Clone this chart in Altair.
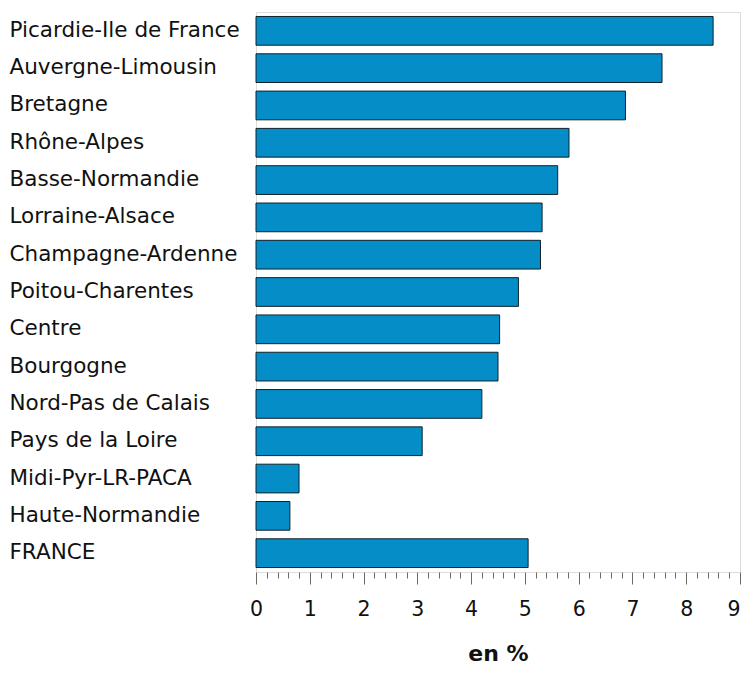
import altair as alt
import pandas as pd

regions = [
    "Picardie-Ile de France", "Auvergne-Limousin", "Bretagne", "Rhône-Alpes",
    "Basse-Normandie", "Lorraine-Alsace", "Champagne-Ardenne", "Poitou-Charentes",
    "Centre", "Bourgogne", "Nord-Pas de Calais", "Pays de la Loire",
    "Midi-Pyr-LR-PACA", "Haute-Normandie", "FRANCE",
]
values = [8.50, 7.55, 6.87, 5.82, 5.61, 5.32, 5.29, 4.88, 4.53, 4.50, 4.20, 3.09, 0.80, 0.63, 5.06]
x_domain = [0, 9]

df = pd.DataFrame({"region": regions, "value": values})

FONT = "DejaVu Sans"
GRAY = "#6f6a5f"
is_major = "abs(datum.value - round(datum.value)) < 0.001"

chart = (
    alt.Chart(df)
    .mark_bar(color="#058DC7", stroke="#10222c", strokeWidth=1)
    .encode(
        y=alt.Y(
            "region:N",
            sort=regions,
            scale=alt.Scale(paddingInner=0.23, paddingOuter=0.12),
            axis=alt.Axis(
                title=None, ticks=False, domain=False, labelAlign="left",
                labelPadding=247, labelFont=FONT, labelFontSize=21.5,
                labelColor="#111111", labelLimit=300,
            ),
        ),
        x=alt.X(
            "value:Q",
            scale=alt.Scale(domain=x_domain, nice=False, zero=True),
            axis=alt.Axis(
                title="en %", tickCount=45,
                labelExpr=f"{is_major} ? format(datum.value, 'd') : ''",
                labelAlign={"condition": {"test": "datum.value > 8.9", "value": "right"}, "value": "center"},
                labelOverlap=False, labelFlush=False, grid=False, domain=False,
                tickColor=GRAY, tickWidth=1,
                tickSize={"condition": {"test": is_major, "value": 12}, "value": 6},
                labelFont=FONT, labelFontSize=20.5, labelColor="#111111", labelPadding=15,
                titleFont=FONT, titleFontSize=22, titleFontWeight="bold",
                titleColor="#111111", titleBaseline="alphabetic", titleY=88,
            ),
        ),
    )
    .properties(
        width=484, height=560,
        autosize=alt.AutoSizeParams(type="none"),
        padding={"left": 248, "top": 4, "right": 1, "bottom": 93},
    )
    .configure_view(stroke=GRAY, strokeWidth=1)
    .configure(background="white")
)

chart.save("out.html", embed_options={"renderer": "svg", "actions": False})
